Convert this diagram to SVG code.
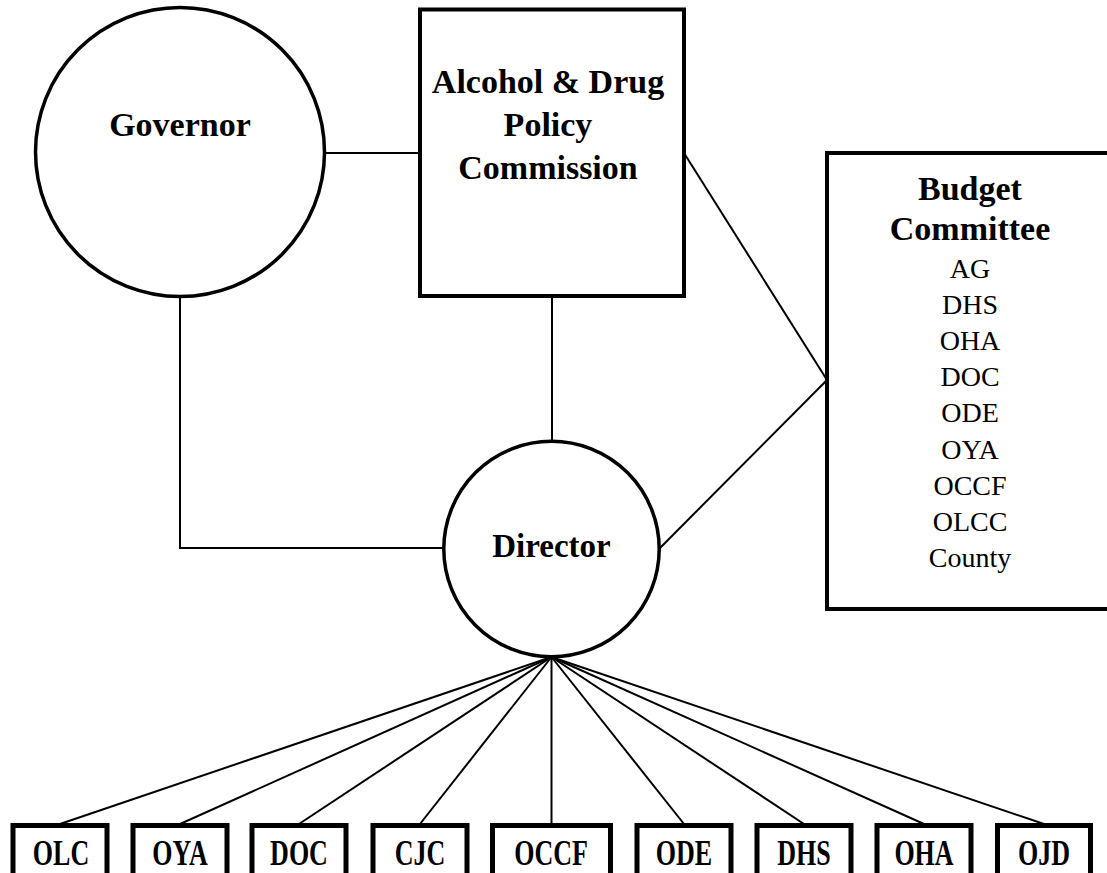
<svg xmlns="http://www.w3.org/2000/svg" width="1107" height="873" viewBox="0 0 1107 873">
<style>
.node{fill:#fff;stroke:#000;stroke-width:4}
.conn{fill:none;stroke:#000;stroke-width:2}
.bt{font-family:"Liberation Serif","Times New Roman",serif;font-weight:bold;font-size:34px;text-anchor:middle;fill:#000}
.rt{font-family:"Liberation Serif","Times New Roman",serif;font-size:28px;text-anchor:middle;fill:#000}
.sb{fill:#fff;stroke:#000;stroke-width:5}
.st{font-family:"Liberation Serif","Times New Roman",serif;font-weight:bold;font-size:26px;text-anchor:middle;fill:#000}
</style>
<rect width="1107" height="873" fill="#fff"/>
<g id="connectors">
<line class="conn" x1="324" y1="153" x2="420" y2="153"/>
<path class="conn" d="M180,297 V548 H444"/>
<line class="conn" x1="552" y1="296" x2="552" y2="441"/>
<line class="conn" x1="684" y1="153" x2="827" y2="380"/>
<line class="conn" x1="660" y1="548" x2="827" y2="380"/>
<line class="conn" x1="551.5" y1="657" x2="60" y2="824"/>
<line class="conn" x1="551.5" y1="657" x2="180" y2="824"/>
<line class="conn" x1="551.5" y1="657" x2="299" y2="824"/>
<line class="conn" x1="551.5" y1="657" x2="420" y2="824"/>
<line class="conn" x1="551.5" y1="657" x2="551.5" y2="824"/>
<line class="conn" x1="551.5" y1="657" x2="684" y2="824"/>
<line class="conn" x1="551.5" y1="657" x2="804" y2="824"/>
<line class="conn" x1="551.5" y1="657" x2="924" y2="824"/>
<line class="conn" x1="551.5" y1="657" x2="1044" y2="824"/>
</g>
<g id="governor">
<circle class="node" cx="180" cy="152" r="144.5" style="stroke-width:3.5"/>
<text class="bt" x="180" y="136">Governor</text>
</g>
<g id="adpc">
<rect class="node" x="420" y="9.5" width="264" height="286.5"/>
<text class="bt" x="548" y="92.5">Alcohol &amp; Drug</text>
<text class="bt" x="548" y="136">Policy</text>
<text class="bt" x="548" y="179.3">Commission</text>
</g>
<g id="director">
<circle class="node" cx="551.5" cy="549" r="107.7" style="stroke-width:3.5"/>
<text class="bt" x="551.5" y="556.7" style="font-size:33px">Director</text>
</g>
<g id="budget">
<rect class="node" x="827" y="153" width="300" height="456"/>
<text class="bt" x="970" y="199.5">Budget</text>
<text class="bt" x="970" y="239.5">Committee</text>
<text class="rt" x="970" y="278">AG</text>
<text class="rt" x="970" y="314.1">DHS</text>
<text class="rt" x="970" y="350.2">OHA</text>
<text class="rt" x="970" y="386.3">DOC</text>
<text class="rt" x="970" y="422.4">ODE</text>
<text class="rt" x="970" y="458.5">OYA</text>
<text class="rt" x="970" y="494.6">OCCF</text>
<text class="rt" x="970" y="530.7">OLCC</text>
<text class="rt" x="970" y="566.8">County</text>
</g>
<g id="olc"><rect class="sb" x="13" y="825.5" width="94" height="80"/><text class="st" transform="translate(61,865) scale(1,1.4)">OLC</text></g>
<g id="oya"><rect class="sb" x="133" y="825.5" width="94" height="80"/><text class="st" transform="translate(180,865) scale(1,1.4)">OYA</text></g>
<g id="doc"><rect class="sb" x="252" y="825.5" width="94" height="80"/><text class="st" transform="translate(299,865) scale(1,1.4)">DOC</text></g>
<g id="cjc"><rect class="sb" x="373" y="825.5" width="94" height="80"/><text class="st" transform="translate(420,865) scale(1,1.4)">CJC</text></g>
<g id="occf"><rect class="sb" x="492.5" y="825.5" width="118" height="80"/><text class="st" transform="translate(551,865) scale(1,1.4)">OCCF</text></g>
<g id="ode"><rect class="sb" x="637" y="825.5" width="94" height="80"/><text class="st" transform="translate(684,865) scale(1,1.4)">ODE</text></g>
<g id="dhs"><rect class="sb" x="757" y="825.5" width="94" height="80"/><text class="st" transform="translate(804,865) scale(1,1.4)">DHS</text></g>
<g id="oha"><rect class="sb" x="877" y="825.5" width="94" height="80"/><text class="st" transform="translate(924,865) scale(1,1.4)">OHA</text></g>
<g id="ojd"><rect class="sb" x="997.5" y="825.5" width="93" height="80"/><text class="st" transform="translate(1044,865) scale(1,1.4)">OJD</text></g>
</svg>
